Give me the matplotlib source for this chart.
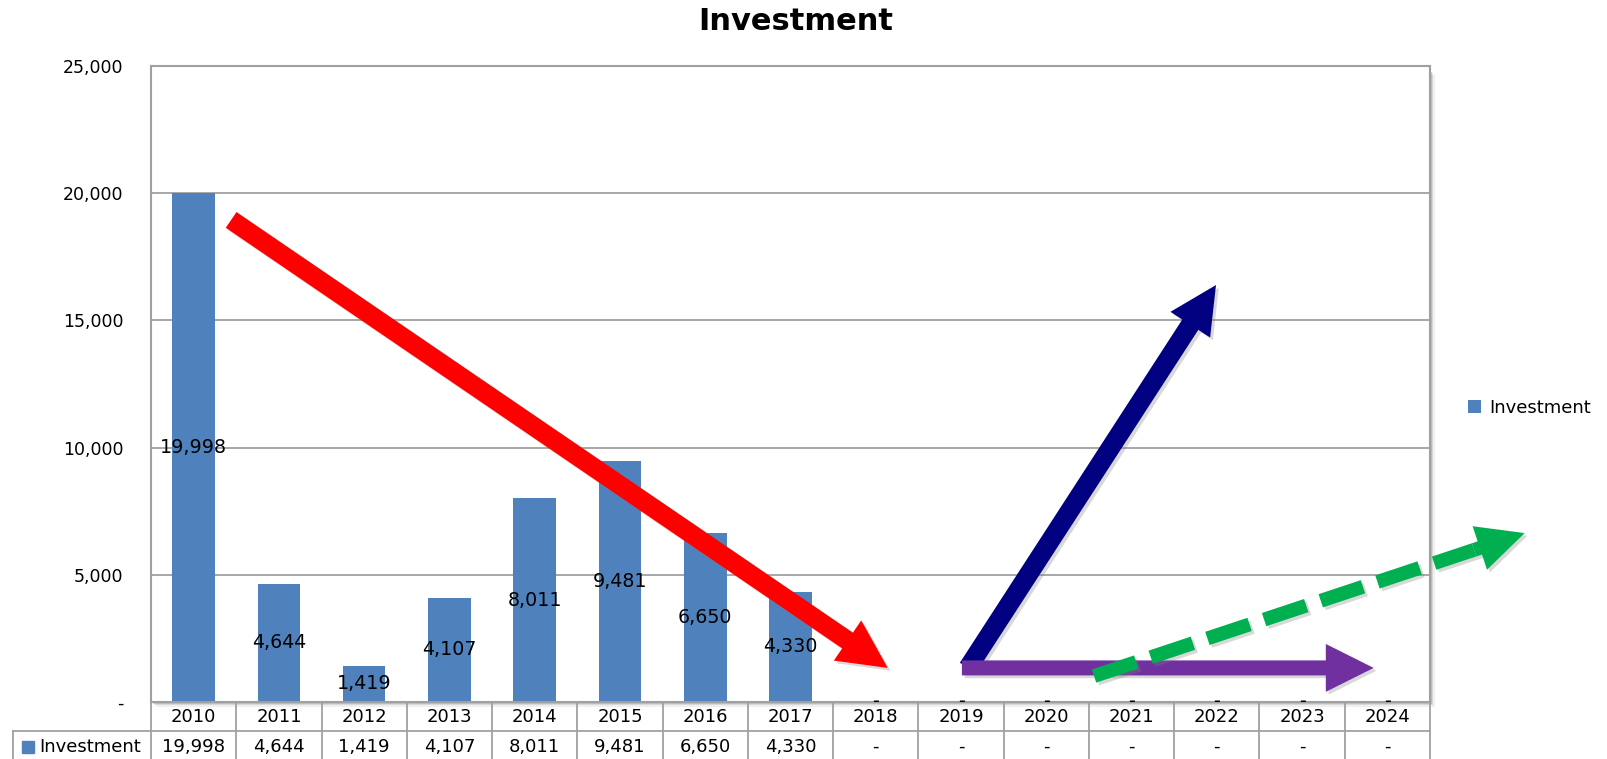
import matplotlib
matplotlib.use('Agg')
import matplotlib.pyplot as plt
import matplotlib.patheffects as pe
import numpy as np
from matplotlib.patches import Rectangle, FancyArrowPatch
from matplotlib.ticker import FuncFormatter
from matplotlib.transforms import blended_transform_factory

# data
years = ['2010', '2011', '2012', '2013', '2014', '2015', '2016', '2017',
         '2018', '2019', '2020', '2021', '2022', '2023', '2024']
investment = [19998, 4644, 1419, 4107, 8011, 9481, 6650, 4330, 0, 0, 0, 0, 0, 0, 0]
series_name = 'Investment'

# trend arrows drawn over the chart: (start, tip) in data units
red_arrow = [(0.44, 18950), (8.14, 1340)]
navy_arrow = [(9.08, 1340), (11.99, 16390)]
purple_arrow = [(9.01, 1340), (13.84, 1340)]
green_arrow = [(10.56, 1020), (15.61, 6640)]

bar_color = '#4F81BD'
line_color = '#A0A0A0'

plt.rcParams['font.family'] = ['DejaVu Sans']

W, H = 1607, 759
fig = plt.figure(figsize=(W / 100, H / 100), dpi=100)
ax = fig.add_axes([151 / W, 57 / H, 1279 / W, 636 / H])

# shadow of the plot area
for k, a in [(5, 0.12), (3, 0.2), (1.5, 0.3)]:
    fig.add_artist(Rectangle(((151 + k) / W, (57 - k) / H), 1279 / W, (636 - 4) / H,
                             transform=fig.transFigure, facecolor='gray', edgecolor='none',
                             alpha=a, zorder=-1))

x = np.arange(len(years))
bars = ax.bar(x, investment, width=0.5, color=bar_color, zorder=2, label=series_name)
ax.set_xlim(-0.5, len(years) - 0.5)
ax.set_ylim(0, 25000)
ax.set_yticks(range(0, 25001, 5000))
ax.yaxis.set_major_formatter(FuncFormatter(lambda v, p: '-' if v == 0 else f'{v:,.0f}'))
ax.tick_params(axis='y', length=0, pad=20, labelsize=12.5)
ax.set_xticks([])
ax.set_axisbelow(True)
ax.grid(axis='y', color=line_color, lw=1.3)
for s in ax.spines.values():
    s.set_color(line_color)
    s.set_linewidth(1.5)

# value labels in the middle of the bars
for i, v in enumerate(investment):
    ax.text(i, v / 2, f'{v:,}' if v else '-', ha='center', va='center',
            fontsize=13.7, zorder=3, clip_on=False)

# data table under the axis
trans = blended_transform_factory(ax.transData, ax.transAxes)
row1 = -29 / 636
row2 = -57 / 636
label_left = (12.5 - 151) / 1279
for b in np.arange(len(years) + 1) - 0.5:
    ax.plot([b, b], [0, row2], transform=trans, color=line_color, lw=1.3, clip_on=False)
ax.plot([label_left, 1], [row1, row1], transform=ax.transAxes, color=line_color, lw=1.3, clip_on=False)
ax.plot([label_left, label_left], [row1, row2], transform=ax.transAxes, color=line_color, lw=1.3,
        clip_on=False)
for i, (yr, v) in enumerate(zip(years, investment)):
    ax.text(i, -14.5 / 636, yr, transform=trans, ha='center', va='center', fontsize=13)
    ax.text(i, -45 / 636, f'{v:,}' if v else '-', transform=trans, ha='center', va='center',
            fontsize=13)
ax.plot([(27.5 - 151) / 1279], [-45 / 636], marker='s', ms=9, color=bar_color,
        transform=ax.transAxes, clip_on=False)
ax.text((39 - 151) / 1279, -45 / 636, series_name, transform=ax.transAxes, ha='left',
        va='center', fontsize=13)

# legend and title
fig.legend(handles=[bars], labels=[series_name], loc='center left',
           bbox_to_anchor=(1468 / W, 1 - 408 / H), frameon=False, borderpad=0,
           borderaxespad=0, handlelength=0.7, handleheight=0.7, handletextpad=0.45,
           fontsize=13)
fig.text(796 / W, 1 - 21.5 / H, 'Investment', ha='center', va='center',
         fontsize=22, fontweight='bold')

shadow = [pe.SimplePatchShadow(offset=(2, -2), shadow_rgbFace='gray', alpha=0.3), pe.Normal()]


def draw_arrow(p0, p1, color, tail, head_w, head_l):
    arr = FancyArrowPatch(p0, p1, arrowstyle=f'simple,head_length={head_l},head_width={head_w},tail_width={tail}',
                          mutation_scale=1, color=color, lw=0, shrinkA=0, shrinkB=0,
                          zorder=5, clip_on=False, path_effects=shadow)
    ax.add_patch(arr)


draw_arrow(red_arrow[0], red_arrow[1], '#FF0000', 13.7, 35, 35)
draw_arrow(navy_arrow[0], navy_arrow[1], '#000080', 13.7, 34, 34)
draw_arrow(purple_arrow[0], purple_arrow[1], '#7030A0', 10.8, 34.5, 34.5)

# green dashed arrow: dashed shaft + solid head
p0 = ax.transData.transform(green_arrow[0])
p1 = ax.transData.transform(green_arrow[1])
d = (p1 - p0) / np.hypot(*(p1 - p0))
head_px = 34 * 100 / 72
base = ax.transData.inverted().transform(p1 - d * (head_px + 6))
ax.plot([green_arrow[0][0], base[0]], [green_arrow[0][1], base[1]], color='#00B050', lw=10,
        linestyle=(0, (3.2, 1.1)), dash_capstyle='butt', zorder=6, clip_on=False,
        path_effects=[pe.SimpleLineShadow(offset=(2, -2), shadow_color='gray', alpha=0.3), pe.Normal()])
arr = FancyArrowPatch(tuple(base), green_arrow[1],
                      arrowstyle='simple,head_length=34,head_width=33,tail_width=10',
                      mutation_scale=1, color='#00B050', lw=0, shrinkA=0, shrinkB=0,
                      zorder=6, clip_on=False, path_effects=shadow)
ax.add_patch(arr)

fig.savefig('out.png', dpi=100)
